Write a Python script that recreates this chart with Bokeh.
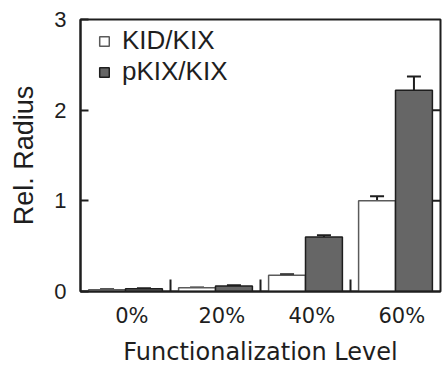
from bokeh.plotting import figure
from bokeh.models import (ColumnDataSource, Range1d, FixedTicker,
                          Whisker, TeeHead, Legend, LegendItem)
from bokeh.embed import file_html
from bokeh.resources import INLINE
import numpy as np

levels = ["0%", "20%", "40%", "60%"]
kid_kix = [0.02, 0.04, 0.18, 1.00]
kid_kix_err = [0.005, 0.005, 0.01, 0.05]
pkix_kix = [0.03, 0.06, 0.60, 2.22]
pkix_kix_err = [0.005, 0.01, 0.02, 0.15]
y_ticks = [0, 1, 2, 3]

FONT = "Liberation Sans"
XFONT = "DejaVu Sans"
INK = "#1e1e1e"
BW = 0.41
LABEL_SHIFT = 0.07

centers = np.arange(len(levels)) + 0.5
src_a = ColumnDataSource(dict(
    x=centers - BW / 2, top=kid_kix,
    upper=np.array(kid_kix) + np.array(kid_kix_err),
    lower=np.array(kid_kix) - np.array(kid_kix_err)))
src_b = ColumnDataSource(dict(
    x=centers + BW / 2, top=pkix_kix,
    upper=np.array(pkix_kix) + np.array(pkix_kix_err),
    lower=np.array(pkix_kix) - np.array(pkix_kix_err)))

x_range = Range1d(0, len(levels))
p = figure(width=443, height=368, output_backend="svg", toolbar_location=None,
           x_range=x_range, y_range=Range1d(0, 3),
           min_border_left=80, min_border_right=3, min_border_top=19,
           min_border_bottom=76)
p.background_fill_color = "white"
p.border_fill_color = "white"
p.grid.visible = False
p.outline_line_color = INK
p.outline_line_width = 2

r_a = p.vbar(x="x", top="top", width=BW, source=src_a, fill_color="white",
             line_color="#5a5a5a", line_width=1.5)
r_b = p.vbar(x="x", top="top", width=BW, source=src_b, fill_color="#666666",
             line_color=INK, line_width=1.5)

for src in (src_a, src_b):
    w = Whisker(base="x", upper="upper", lower="lower", source=src,
                line_color=INK, line_width=2)
    w.upper_head = TeeHead(size=14, line_color=INK, line_width=2)
    w.lower_head = TeeHead(size=14, line_color=INK, line_width=2)
    p.add_layout(w)

# mirrored inward ticks on the right frame edge (half of each dash is clipped)
inner_ticks = y_ticks[1:-1]
p.scatter(x=[x_range.end] * len(inner_ticks), y=inner_ticks, marker="dash",
          size=16, line_color=INK, line_width=2)

# x axis: labels at category centres, separators as minor ticks
label_pos = [float(c + LABEL_SHIFT) for c in centers]
xa = p.xaxis[0]
xa.ticker = FixedTicker(ticks=label_pos, minor_ticks=list(range(1, len(levels))))
xa.major_label_overrides = {pos: lab for pos, lab in zip(label_pos, levels)}
xa.major_tick_line_color = None
xa.minor_tick_in = 12
xa.minor_tick_out = 0
xa.minor_tick_line_color = INK
xa.minor_tick_line_width = 2
xa.axis_line_color = INK
xa.axis_line_width = 2
xa.axis_label = "Functionalization Level"
xa.axis_label_text_font = XFONT
xa.axis_label_text_font_size = "24px"
xa.axis_label_text_font_style = "normal"
xa.axis_label_text_color = INK
xa.axis_label_standoff = 7
xa.major_label_text_font = XFONT
xa.major_label_text_font_size = "21px"
xa.major_label_text_color = INK
xa.major_label_standoff = 6

ya = p.yaxis[0]
ya.ticker = FixedTicker(ticks=y_ticks, minor_ticks=[])
ya.major_tick_in = 8
ya.major_tick_out = 0
ya.major_tick_line_color = INK
ya.major_tick_line_width = 2
ya.axis_line_color = INK
ya.axis_line_width = 2
ya.axis_label = "Rel. Radius"
ya.axis_label_text_font = FONT
ya.axis_label_text_font_size = "27px"
ya.axis_label_text_font_style = "normal"
ya.axis_label_text_color = INK
ya.axis_label_standoff = 12
ya.major_label_text_font = FONT
ya.major_label_text_font_size = "22px"
ya.major_label_text_color = INK
ya.major_label_standoff = 14

legend = Legend(items=[LegendItem(label="KID/KIX", renderers=[r_a]),
                       LegendItem(label="pKIX/KIX", renderers=[r_b])],
                location=(18, 204), margin=0, padding=0,
                glyph_width=12, glyph_height=12, label_standoff=12,
                spacing=0, border_line_color=None, background_fill_alpha=0,
                label_text_font=FONT, label_text_font_size="26px",
                label_text_color=INK, label_height=28)
p.add_layout(legend)

open("out.html", "w").write(file_html(p, INLINE))
